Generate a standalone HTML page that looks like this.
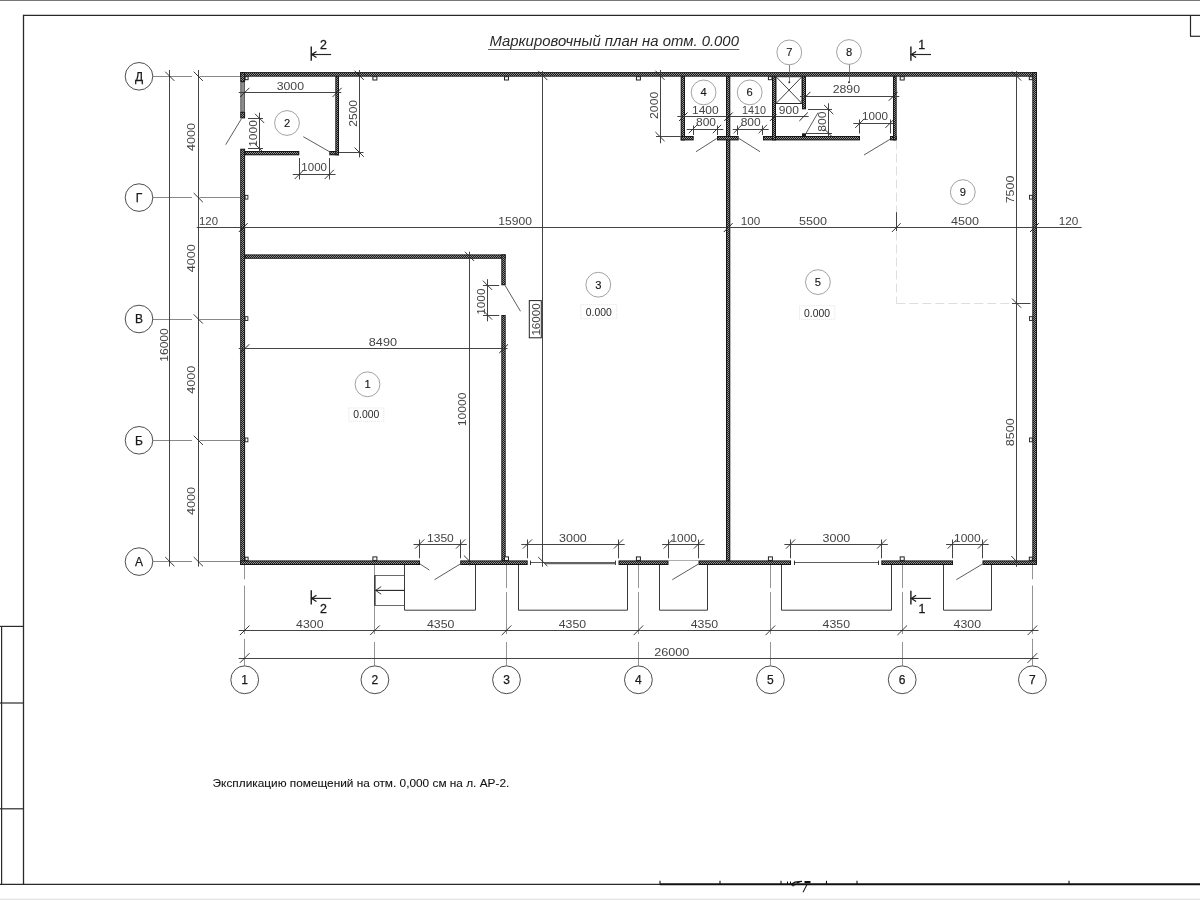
<!DOCTYPE html>
<html><head><meta charset="utf-8"><title>plan</title>
<style>
html,body{margin:0;padding:0;background:#fff;}
body{width:1200px;height:900px;overflow:hidden;position:relative;font-family:"Liberation Sans",sans-serif;}
svg{position:absolute;left:0;top:0;display:block;filter:grayscale(1)}
svg text{font-family:"Liberation Sans",sans-serif;}
</style></head><body>
<svg width="1200" height="900" viewBox="0 0 1200 900">
<defs><pattern id="hx" width="2" height="2" patternUnits="userSpaceOnUse"><rect width="2" height="2" fill="#1a1a1a"/><rect x="0" y="0" width="1" height="1" fill="#929292"/><rect x="1" y="1" width="1" height="1" fill="#929292"/></pattern></defs>
<rect x="0" y="0" width="1200" height="900" fill="#ffffff"/>

<rect x="0" y="0" width="1200" height="1" fill="#777"/>
<rect x="0" y="898.6" width="1200" height="1.4" fill="#e4e4e4"/>
<line x1="23.50" y1="15.30" x2="1200.00" y2="15.30" stroke="#2a2a2a" stroke-width="1.3" />
<line x1="23.50" y1="14.70" x2="23.50" y2="885.00" stroke="#2a2a2a" stroke-width="1.3" />
<line x1="0.00" y1="884.40" x2="660.00" y2="884.40" stroke="#2a2a2a" stroke-width="1.3" />
<line x1="660.00" y1="884.30" x2="1200.00" y2="884.30" stroke="#111" stroke-width="1.9" />
<line x1="1190.50" y1="15.30" x2="1190.50" y2="36.30" stroke="#2a2a2a" stroke-width="1.2" />
<line x1="1190.00" y1="36.30" x2="1200.00" y2="36.30" stroke="#2a2a2a" stroke-width="1.2" />
<line x1="1.60" y1="626.40" x2="1.60" y2="885.00" stroke="#2a2a2a" stroke-width="1.2" />
<line x1="0.00" y1="626.40" x2="23.50" y2="626.40" stroke="#2a2a2a" stroke-width="1.2" />
<line x1="0.00" y1="703.00" x2="23.50" y2="703.00" stroke="#2a2a2a" stroke-width="1.2" />
<line x1="0.00" y1="808.80" x2="23.50" y2="808.80" stroke="#2a2a2a" stroke-width="1.2" />
<line x1="660.00" y1="880.80" x2="660.00" y2="884.40" stroke="#111" stroke-width="1.1" />
<line x1="720.00" y1="880.80" x2="720.00" y2="884.40" stroke="#111" stroke-width="1.1" />
<line x1="781.00" y1="880.80" x2="781.00" y2="884.40" stroke="#111" stroke-width="1.1" />
<line x1="826.50" y1="880.80" x2="826.50" y2="884.40" stroke="#111" stroke-width="1.1" />
<line x1="857.00" y1="880.80" x2="857.00" y2="884.40" stroke="#111" stroke-width="1.1" />
<line x1="1069.00" y1="880.80" x2="1069.00" y2="884.40" stroke="#111" stroke-width="1.1" />
<line x1="787.50" y1="881.50" x2="787.50" y2="884.40" stroke="#111" stroke-width="1" />
<line x1="790.50" y1="881.50" x2="790.50" y2="884.40" stroke="#111" stroke-width="1" />
<path d="M791.5 884 L795 882.2 L799 881.6 L802 881.4 M797 883 L801 881.5" stroke="#111" stroke-width="1.2" fill="none"/>
<rect x="804.5" y="881" width="6" height="2.2" fill="#111"/>
<path d="M791 885.2 L793 886.6 L795.5 885.2 Z" fill="#111"/>
<line x1="806.80" y1="885.00" x2="803.00" y2="892.30" stroke="#222" stroke-width="1.1" />
<circle cx="139.00" cy="76.30" r="13.80" fill="none" stroke="#2e2e2e" stroke-width="0.85"/>
<text x="139.00" y="80.70" font-size="12.0" text-anchor="middle" fill="#1a1a1a" font-weight="normal" font-style="normal" stroke="#1a1a1a" stroke-width="0.25">Д</text>
<line x1="152.80" y1="76.50" x2="192.00" y2="76.50" stroke="#555" stroke-width="0.7" />
<line x1="199.50" y1="76.50" x2="240.50" y2="76.50" stroke="#555" stroke-width="0.7" />
<circle cx="139.00" cy="197.60" r="13.80" fill="none" stroke="#2e2e2e" stroke-width="0.85"/>
<text x="139.00" y="202.00" font-size="12.0" text-anchor="middle" fill="#1a1a1a" font-weight="normal" font-style="normal" stroke="#1a1a1a" stroke-width="0.25">Г</text>
<line x1="152.80" y1="197.50" x2="192.00" y2="197.50" stroke="#555" stroke-width="0.7" />
<line x1="199.50" y1="197.50" x2="240.50" y2="197.50" stroke="#555" stroke-width="0.7" />
<circle cx="139.00" cy="319.00" r="13.80" fill="none" stroke="#2e2e2e" stroke-width="0.85"/>
<text x="139.00" y="323.40" font-size="12.0" text-anchor="middle" fill="#1a1a1a" font-weight="normal" font-style="normal" stroke="#1a1a1a" stroke-width="0.25">В</text>
<line x1="152.80" y1="319.50" x2="192.00" y2="319.50" stroke="#555" stroke-width="0.7" />
<line x1="199.50" y1="319.50" x2="240.50" y2="319.50" stroke="#555" stroke-width="0.7" />
<circle cx="139.00" cy="440.30" r="13.80" fill="none" stroke="#2e2e2e" stroke-width="0.85"/>
<text x="139.00" y="444.70" font-size="12.0" text-anchor="middle" fill="#1a1a1a" font-weight="normal" font-style="normal" stroke="#1a1a1a" stroke-width="0.25">Б</text>
<line x1="152.80" y1="440.50" x2="192.00" y2="440.50" stroke="#555" stroke-width="0.7" />
<line x1="199.50" y1="440.50" x2="240.50" y2="440.50" stroke="#555" stroke-width="0.7" />
<circle cx="139.00" cy="561.60" r="13.80" fill="none" stroke="#2e2e2e" stroke-width="0.85"/>
<text x="139.00" y="566.00" font-size="12.0" text-anchor="middle" fill="#1a1a1a" font-weight="normal" font-style="normal" stroke="#1a1a1a" stroke-width="0.25">А</text>
<line x1="152.80" y1="561.50" x2="192.00" y2="561.50" stroke="#555" stroke-width="0.7" />
<line x1="199.50" y1="561.50" x2="240.50" y2="561.50" stroke="#555" stroke-width="0.7" />
<circle cx="244.70" cy="679.80" r="13.90" fill="none" stroke="#2e2e2e" stroke-width="0.85"/>
<text x="244.70" y="684.20" font-size="12.0" text-anchor="middle" fill="#1a1a1a" font-weight="normal" font-style="normal" stroke="#1a1a1a" stroke-width="0.25">1</text>
<circle cx="374.90" cy="679.80" r="13.90" fill="none" stroke="#2e2e2e" stroke-width="0.85"/>
<text x="374.90" y="684.20" font-size="12.0" text-anchor="middle" fill="#1a1a1a" font-weight="normal" font-style="normal" stroke="#1a1a1a" stroke-width="0.25">2</text>
<circle cx="506.50" cy="679.80" r="13.90" fill="none" stroke="#2e2e2e" stroke-width="0.85"/>
<text x="506.50" y="684.20" font-size="12.0" text-anchor="middle" fill="#1a1a1a" font-weight="normal" font-style="normal" stroke="#1a1a1a" stroke-width="0.25">3</text>
<circle cx="638.40" cy="679.80" r="13.90" fill="none" stroke="#2e2e2e" stroke-width="0.85"/>
<text x="638.40" y="684.20" font-size="12.0" text-anchor="middle" fill="#1a1a1a" font-weight="normal" font-style="normal" stroke="#1a1a1a" stroke-width="0.25">4</text>
<circle cx="770.40" cy="679.80" r="13.90" fill="none" stroke="#2e2e2e" stroke-width="0.85"/>
<text x="770.40" y="684.20" font-size="12.0" text-anchor="middle" fill="#1a1a1a" font-weight="normal" font-style="normal" stroke="#1a1a1a" stroke-width="0.25">5</text>
<circle cx="902.20" cy="679.80" r="13.90" fill="none" stroke="#2e2e2e" stroke-width="0.85"/>
<text x="902.20" y="684.20" font-size="12.0" text-anchor="middle" fill="#1a1a1a" font-weight="normal" font-style="normal" stroke="#1a1a1a" stroke-width="0.25">6</text>
<circle cx="1032.40" cy="679.80" r="13.90" fill="none" stroke="#2e2e2e" stroke-width="0.85"/>
<text x="1032.40" y="684.20" font-size="12.0" text-anchor="middle" fill="#1a1a1a" font-weight="normal" font-style="normal" stroke="#1a1a1a" stroke-width="0.25">7</text>
<line x1="244.50" y1="565.00" x2="244.50" y2="579.30" stroke="#666" stroke-width="0.7" />
<line x1="244.50" y1="585.60" x2="244.50" y2="634.00" stroke="#666" stroke-width="0.7" />
<line x1="244.50" y1="638.80" x2="244.50" y2="666.00" stroke="#666" stroke-width="0.7" />
<line x1="374.50" y1="565.00" x2="374.50" y2="634.00" stroke="#666" stroke-width="0.7" />
<line x1="374.50" y1="642.00" x2="374.50" y2="666.00" stroke="#666" stroke-width="0.7" />
<line x1="506.50" y1="565.00" x2="506.50" y2="588.00" stroke="#666" stroke-width="0.7" />
<line x1="506.50" y1="592.00" x2="506.50" y2="634.00" stroke="#666" stroke-width="0.7" />
<line x1="506.50" y1="642.00" x2="506.50" y2="666.00" stroke="#666" stroke-width="0.7" />
<line x1="638.50" y1="565.00" x2="638.50" y2="588.00" stroke="#666" stroke-width="0.7" />
<line x1="638.50" y1="592.00" x2="638.50" y2="634.00" stroke="#666" stroke-width="0.7" />
<line x1="638.50" y1="642.00" x2="638.50" y2="666.00" stroke="#666" stroke-width="0.7" />
<line x1="770.50" y1="565.00" x2="770.50" y2="588.00" stroke="#666" stroke-width="0.7" />
<line x1="770.50" y1="592.00" x2="770.50" y2="634.00" stroke="#666" stroke-width="0.7" />
<line x1="770.50" y1="642.00" x2="770.50" y2="666.00" stroke="#666" stroke-width="0.7" />
<line x1="902.50" y1="565.00" x2="902.50" y2="588.00" stroke="#666" stroke-width="0.7" />
<line x1="902.50" y1="592.00" x2="902.50" y2="634.00" stroke="#666" stroke-width="0.7" />
<line x1="902.50" y1="642.00" x2="902.50" y2="666.00" stroke="#666" stroke-width="0.7" />
<line x1="1032.50" y1="565.00" x2="1032.50" y2="579.30" stroke="#666" stroke-width="0.7" />
<line x1="1032.50" y1="585.60" x2="1032.50" y2="634.00" stroke="#666" stroke-width="0.7" />
<line x1="1032.50" y1="638.80" x2="1032.50" y2="666.00" stroke="#666" stroke-width="0.7" />
<rect x="240.20" y="72.10" width="796.80" height="4.60" fill="#161616"/>
<rect x="241.20" y="73.10" width="794.80" height="2.60" fill="url(#hx)"/>
<rect x="1032.30" y="72.10" width="4.70" height="492.90" fill="#161616"/>
<rect x="1033.30" y="73.10" width="2.70" height="490.90" fill="url(#hx)"/>
<rect x="240.20" y="72.10" width="4.90" height="9.90" fill="#161616"/>
<rect x="241.20" y="73.10" width="2.90" height="7.90" fill="url(#hx)"/>
<rect x="240.20" y="112.00" width="4.90" height="6.40" fill="#161616"/>
<rect x="241.20" y="113.00" width="2.90" height="4.40" fill="url(#hx)"/>
<rect x="240.20" y="148.70" width="4.90" height="416.30" fill="#161616"/>
<rect x="241.20" y="149.70" width="2.90" height="414.30" fill="url(#hx)"/>
<rect x="240.79999999999998" y="82" width="3.7000000000000055" height="30" fill="#8c8c8c" stroke="#333" stroke-width="0.7"/>
<rect x="240.20" y="560.40" width="179.80" height="4.60" fill="#161616"/>
<rect x="241.20" y="561.40" width="177.80" height="2.60" fill="url(#hx)"/>
<rect x="460.20" y="560.40" width="67.50" height="4.60" fill="#161616"/>
<rect x="461.20" y="561.40" width="65.50" height="2.60" fill="url(#hx)"/>
<rect x="618.50" y="560.40" width="50.00" height="4.60" fill="#161616"/>
<rect x="619.50" y="561.40" width="48.00" height="2.60" fill="url(#hx)"/>
<rect x="698.50" y="560.40" width="92.50" height="4.60" fill="#161616"/>
<rect x="699.50" y="561.40" width="90.50" height="2.60" fill="url(#hx)"/>
<rect x="881.30" y="560.40" width="71.70" height="4.60" fill="#161616"/>
<rect x="882.30" y="561.40" width="69.70" height="2.60" fill="url(#hx)"/>
<rect x="982.50" y="560.40" width="54.50" height="4.60" fill="#161616"/>
<rect x="983.50" y="561.40" width="52.50" height="2.60" fill="url(#hx)"/>
<rect x="244.60" y="151.00" width="54.70" height="4.30" fill="#161616"/>
<rect x="245.60" y="152.00" width="52.70" height="2.30" fill="url(#hx)"/>
<rect x="329.30" y="151.00" width="9.70" height="4.30" fill="#161616"/>
<rect x="330.30" y="152.00" width="7.70" height="2.30" fill="url(#hx)"/>
<rect x="335.30" y="76.20" width="3.70" height="79.10" fill="#161616"/>
<rect x="336.30" y="77.20" width="1.70" height="77.10" fill="url(#hx)"/>
<rect x="244.60" y="254.40" width="261.10" height="4.40" fill="#161616"/>
<rect x="245.60" y="255.40" width="259.10" height="2.40" fill="url(#hx)"/>
<rect x="501.30" y="254.40" width="4.40" height="30.90" fill="#161616"/>
<rect x="502.30" y="255.40" width="2.40" height="28.90" fill="url(#hx)"/>
<rect x="501.30" y="315.00" width="4.40" height="245.90" fill="#161616"/>
<rect x="502.30" y="316.00" width="2.40" height="243.90" fill="url(#hx)"/>
<rect x="726.00" y="76.20" width="4.30" height="484.70" fill="#161616"/>
<rect x="727.00" y="77.20" width="2.30" height="482.70" fill="url(#hx)"/>
<rect x="680.70" y="76.20" width="4.30" height="64.20" fill="#161616"/>
<rect x="681.70" y="77.20" width="2.30" height="62.20" fill="url(#hx)"/>
<rect x="680.70" y="136.00" width="13.00" height="4.40" fill="#161616"/>
<rect x="681.70" y="137.00" width="11.00" height="2.40" fill="url(#hx)"/>
<rect x="717.00" y="136.00" width="21.70" height="4.40" fill="#161616"/>
<rect x="718.00" y="137.00" width="19.70" height="2.40" fill="url(#hx)"/>
<rect x="763.00" y="136.00" width="97.00" height="4.40" fill="#161616"/>
<rect x="764.00" y="137.00" width="95.00" height="2.40" fill="url(#hx)"/>
<rect x="890.00" y="136.00" width="6.70" height="4.40" fill="#161616"/>
<rect x="891.00" y="137.00" width="4.70" height="2.40" fill="url(#hx)"/>
<rect x="772.00" y="76.20" width="4.00" height="64.20" fill="#161616"/>
<rect x="773.00" y="77.20" width="2.00" height="62.20" fill="url(#hx)"/>
<rect x="802.00" y="76.20" width="4.00" height="33.10" fill="#161616"/>
<rect x="803.00" y="77.20" width="2.00" height="31.10" fill="url(#hx)"/>
<rect x="802" y="133.3" width="4" height="3" fill="#1c1c1c"/>
<rect x="893.00" y="76.20" width="3.70" height="64.20" fill="#161616"/>
<rect x="894.00" y="77.20" width="1.70" height="62.20" fill="url(#hx)"/>
<rect x="776" y="76.7" width="26" height="26.8" fill="#fff" stroke="#262626" stroke-width="1"/>
<line x1="776.00" y1="76.70" x2="802.00" y2="103.50" stroke="#383838" stroke-width="0.95" />
<line x1="802.00" y1="76.70" x2="776.00" y2="103.50" stroke="#383838" stroke-width="0.95" />
<rect x="372.90" y="76.70" width="4.00" height="3.30" fill="#fff" stroke="#161616" stroke-width="0.95"/>
<rect x="372.90" y="556.90" width="4.00" height="3.50" fill="#fff" stroke="#161616" stroke-width="0.95"/>
<rect x="504.50" y="76.70" width="4.00" height="3.30" fill="#fff" stroke="#161616" stroke-width="0.95"/>
<rect x="504.50" y="556.90" width="4.00" height="3.50" fill="#fff" stroke="#161616" stroke-width="0.95"/>
<rect x="636.40" y="76.70" width="4.00" height="3.30" fill="#fff" stroke="#161616" stroke-width="0.95"/>
<rect x="636.40" y="556.90" width="4.00" height="3.50" fill="#fff" stroke="#161616" stroke-width="0.95"/>
<rect x="768.40" y="76.70" width="3.60" height="3.00" fill="#fff" stroke="#161616" stroke-width="0.95"/>
<rect x="768.40" y="556.90" width="4.00" height="3.50" fill="#fff" stroke="#161616" stroke-width="0.95"/>
<rect x="900.20" y="76.70" width="4.00" height="3.30" fill="#fff" stroke="#161616" stroke-width="0.95"/>
<rect x="900.20" y="556.90" width="4.00" height="3.50" fill="#fff" stroke="#161616" stroke-width="0.95"/>
<rect x="245.10" y="76.70" width="3.00" height="3.00" fill="#fff" stroke="#161616" stroke-width="0.95"/>
<rect x="245.10" y="557.20" width="3.00" height="3.20" fill="#fff" stroke="#161616" stroke-width="0.95"/>
<rect x="1029.30" y="76.70" width="3.00" height="3.00" fill="#fff" stroke="#161616" stroke-width="0.95"/>
<rect x="1029.30" y="557.20" width="3.00" height="3.20" fill="#fff" stroke="#161616" stroke-width="0.95"/>
<rect x="245.10" y="195.30" width="2.80" height="3.80" fill="#fff" stroke="#161616" stroke-width="0.85"/>
<rect x="1029.50" y="195.30" width="2.80" height="3.80" fill="#fff" stroke="#161616" stroke-width="0.85"/>
<rect x="245.10" y="316.70" width="2.80" height="3.80" fill="#fff" stroke="#161616" stroke-width="0.85"/>
<rect x="1029.50" y="316.70" width="2.80" height="3.80" fill="#fff" stroke="#161616" stroke-width="0.85"/>
<rect x="245.10" y="438.00" width="2.80" height="3.80" fill="#fff" stroke="#161616" stroke-width="0.85"/>
<rect x="1029.50" y="438.00" width="2.80" height="3.80" fill="#fff" stroke="#161616" stroke-width="0.85"/>
<line x1="241.50" y1="118.60" x2="225.70" y2="144.70" stroke="#333" stroke-width="0.8" />
<line x1="330.00" y1="152.00" x2="303.30" y2="136.70" stroke="#333" stroke-width="0.8" />
<line x1="505.00" y1="285.30" x2="520.50" y2="311.30" stroke="#333" stroke-width="0.8" />
<line x1="716.70" y1="138.50" x2="696.00" y2="151.70" stroke="#333" stroke-width="0.8" />
<line x1="739.00" y1="138.50" x2="760.00" y2="151.70" stroke="#333" stroke-width="0.8" />
<line x1="806.00" y1="133.30" x2="818.00" y2="112.70" stroke="#333" stroke-width="0.8" />
<line x1="890.00" y1="139.30" x2="864.00" y2="155.00" stroke="#333" stroke-width="0.8" />
<line x1="420.00" y1="564.00" x2="429.30" y2="570.00" stroke="#333" stroke-width="0.8" />
<line x1="460.20" y1="564.00" x2="434.50" y2="579.70" stroke="#333" stroke-width="0.8" />
<line x1="698.50" y1="564.00" x2="672.30" y2="579.70" stroke="#333" stroke-width="0.8" />
<line x1="982.50" y1="564.00" x2="956.30" y2="579.70" stroke="#333" stroke-width="0.8" />
<line x1="668.50" y1="560.50" x2="698.50" y2="560.50" stroke="#777" stroke-width="0.6" />
<line x1="530.70" y1="562.50" x2="615.50" y2="562.50" stroke="#333" stroke-width="0.8" />
<line x1="530.50" y1="560.60" x2="530.50" y2="565.00" stroke="#222" stroke-width="0.9" />
<line x1="615.50" y1="560.60" x2="615.50" y2="565.00" stroke="#222" stroke-width="0.9" />
<line x1="545.00" y1="563.40" x2="615.50" y2="563.40" stroke="#666" stroke-width="1.6" />
<line x1="794.00" y1="562.50" x2="878.30" y2="562.50" stroke="#333" stroke-width="0.8" />
<line x1="794.50" y1="560.60" x2="794.50" y2="565.00" stroke="#222" stroke-width="0.9" />
<line x1="878.50" y1="560.60" x2="878.50" y2="565.00" stroke="#222" stroke-width="0.9" />
<path d="M404.5 565 V610.2 H475.5 V565" fill="none" stroke="#3a3a3a" stroke-width="1"/>
<path d="M518.5 565 V610.2 H627.5 V565" fill="none" stroke="#3a3a3a" stroke-width="1"/>
<path d="M659.5 565 V610.2 H707.5 V565" fill="none" stroke="#3a3a3a" stroke-width="1"/>
<path d="M781.5 565 V610.2 H891.5 V565" fill="none" stroke="#3a3a3a" stroke-width="1"/>
<path d="M943.5 565 V610.2 H991.5 V565" fill="none" stroke="#3a3a3a" stroke-width="1"/>
<line x1="374.90" y1="575.50" x2="404.50" y2="575.50" stroke="#444" stroke-width="0.8" />
<line x1="374.90" y1="605.50" x2="404.50" y2="605.50" stroke="#444" stroke-width="0.8" />
<line x1="374.90" y1="575.30" x2="374.90" y2="605.60" stroke="#222" stroke-width="1.3" />
<line x1="375.50" y1="590.40" x2="404.50" y2="590.40" stroke="#222" stroke-width="1.1" />
<path d="M381.2 586.6 L375.6 590.4 L381.2 594.2" fill="none" stroke="#222" stroke-width="0.9"/>
<line x1="169.50" y1="70.00" x2="169.50" y2="566.50" stroke="#3a3a3a" stroke-width="0.95" />
<line x1="198.50" y1="70.00" x2="198.50" y2="566.50" stroke="#3a3a3a" stroke-width="0.95" />
<line x1="193.70" y1="71.70" x2="202.90" y2="80.90" stroke="#222" stroke-width="0.9" />
<line x1="193.70" y1="193.00" x2="202.90" y2="202.20" stroke="#222" stroke-width="0.9" />
<line x1="193.70" y1="314.40" x2="202.90" y2="323.60" stroke="#222" stroke-width="0.9" />
<line x1="193.70" y1="435.70" x2="202.90" y2="444.90" stroke="#222" stroke-width="0.9" />
<line x1="193.70" y1="557.00" x2="202.90" y2="566.20" stroke="#222" stroke-width="0.9" />
<line x1="165.20" y1="71.70" x2="174.40" y2="80.90" stroke="#222" stroke-width="0.9" />
<line x1="165.20" y1="557.00" x2="174.40" y2="566.20" stroke="#222" stroke-width="0.9" />
<text x="195.30" y="136.95" font-size="11.4" text-anchor="middle" fill="#444" font-weight="normal" font-style="normal" textLength="28.00" lengthAdjust="spacingAndGlyphs" transform="rotate(-90 195.30 136.95)" >4000</text>
<text x="195.30" y="258.30" font-size="11.4" text-anchor="middle" fill="#444" font-weight="normal" font-style="normal" textLength="28.00" lengthAdjust="spacingAndGlyphs" transform="rotate(-90 195.30 258.30)" >4000</text>
<text x="195.30" y="379.65" font-size="11.4" text-anchor="middle" fill="#444" font-weight="normal" font-style="normal" textLength="28.00" lengthAdjust="spacingAndGlyphs" transform="rotate(-90 195.30 379.65)" >4000</text>
<text x="195.30" y="500.95" font-size="11.4" text-anchor="middle" fill="#444" font-weight="normal" font-style="normal" textLength="28.00" lengthAdjust="spacingAndGlyphs" transform="rotate(-90 195.30 500.95)" >4000</text>
<text x="167.60" y="345.00" font-size="11.4" text-anchor="middle" fill="#444" font-weight="normal" font-style="normal" textLength="33.40" lengthAdjust="spacingAndGlyphs" transform="rotate(-90 167.60 345.00)" >16000</text>
<line x1="238.70" y1="630.50" x2="1038.50" y2="630.50" stroke="#3a3a3a" stroke-width="0.95" />
<line x1="238.70" y1="658.50" x2="1038.50" y2="658.50" stroke="#3a3a3a" stroke-width="0.95" />
<line x1="239.90" y1="635.10" x2="249.50" y2="625.50" stroke="#222" stroke-width="0.9" />
<line x1="370.10" y1="635.10" x2="379.70" y2="625.50" stroke="#222" stroke-width="0.9" />
<line x1="501.70" y1="635.10" x2="511.30" y2="625.50" stroke="#222" stroke-width="0.9" />
<line x1="633.60" y1="635.10" x2="643.20" y2="625.50" stroke="#222" stroke-width="0.9" />
<line x1="765.60" y1="635.10" x2="775.20" y2="625.50" stroke="#222" stroke-width="0.9" />
<line x1="897.40" y1="635.10" x2="907.00" y2="625.50" stroke="#222" stroke-width="0.9" />
<line x1="1027.60" y1="635.10" x2="1037.20" y2="625.50" stroke="#222" stroke-width="0.9" />
<line x1="239.90" y1="662.80" x2="249.50" y2="653.20" stroke="#222" stroke-width="0.9" />
<line x1="1027.60" y1="662.80" x2="1037.20" y2="653.20" stroke="#222" stroke-width="0.9" />
<text x="309.80" y="627.80" font-size="11.0" text-anchor="middle" fill="#444" font-weight="normal" font-style="normal" textLength="27.40" lengthAdjust="spacingAndGlyphs" >4300</text>
<text x="440.70" y="627.80" font-size="11.0" text-anchor="middle" fill="#444" font-weight="normal" font-style="normal" textLength="27.40" lengthAdjust="spacingAndGlyphs" >4350</text>
<text x="572.45" y="627.80" font-size="11.0" text-anchor="middle" fill="#444" font-weight="normal" font-style="normal" textLength="27.40" lengthAdjust="spacingAndGlyphs" >4350</text>
<text x="704.40" y="627.80" font-size="11.0" text-anchor="middle" fill="#444" font-weight="normal" font-style="normal" textLength="27.40" lengthAdjust="spacingAndGlyphs" >4350</text>
<text x="836.30" y="627.80" font-size="11.0" text-anchor="middle" fill="#444" font-weight="normal" font-style="normal" textLength="27.40" lengthAdjust="spacingAndGlyphs" >4350</text>
<text x="967.30" y="627.80" font-size="11.0" text-anchor="middle" fill="#444" font-weight="normal" font-style="normal" textLength="27.40" lengthAdjust="spacingAndGlyphs" >4300</text>
<text x="671.80" y="655.50" font-size="11.0" text-anchor="middle" fill="#444" font-weight="normal" font-style="normal" textLength="35.20" lengthAdjust="spacingAndGlyphs" >26000</text>
<line x1="896.50" y1="140.50" x2="896.50" y2="303.20" stroke="#d6d6d6" stroke-width="0.8" stroke-dasharray="9 4"/>
<line x1="896.30" y1="303.50" x2="1012.00" y2="303.50" stroke="#d6d6d6" stroke-width="0.8" stroke-dasharray="9 4"/>
<line x1="196.70" y1="227.50" x2="1081.70" y2="227.50" stroke="#3a3a3a" stroke-width="0.95" />
<line x1="238.80" y1="232.00" x2="247.60" y2="223.20" stroke="#222" stroke-width="1.0" />
<line x1="723.80" y1="232.00" x2="732.60" y2="223.20" stroke="#222" stroke-width="1.0" />
<line x1="1030.00" y1="232.00" x2="1038.80" y2="223.20" stroke="#222" stroke-width="1.0" />
<line x1="891.90" y1="232.00" x2="900.70" y2="223.20" stroke="#222" stroke-width="0.9" />
<line x1="896.50" y1="212.20" x2="896.50" y2="231.00" stroke="#3a3a3a" stroke-width="0.95" />
<text x="208.50" y="224.80" font-size="11.0" text-anchor="middle" fill="#444" font-weight="normal" font-style="normal" textLength="19.00" lengthAdjust="spacingAndGlyphs" >120</text>
<text x="515.15" y="224.80" font-size="11.0" text-anchor="middle" fill="#444" font-weight="normal" font-style="normal" textLength="33.70" lengthAdjust="spacingAndGlyphs" >15900</text>
<text x="750.45" y="224.80" font-size="11.0" text-anchor="middle" fill="#444" font-weight="normal" font-style="normal" textLength="19.50" lengthAdjust="spacingAndGlyphs" >100</text>
<text x="813.00" y="224.80" font-size="11.0" text-anchor="middle" fill="#444" font-weight="normal" font-style="normal" textLength="28.00" lengthAdjust="spacingAndGlyphs" >5500</text>
<text x="965.00" y="224.80" font-size="11.0" text-anchor="middle" fill="#444" font-weight="normal" font-style="normal" textLength="28.00" lengthAdjust="spacingAndGlyphs" >4500</text>
<text x="1068.60" y="224.80" font-size="11.0" text-anchor="middle" fill="#444" font-weight="normal" font-style="normal" textLength="19.60" lengthAdjust="spacingAndGlyphs" >120</text>
<line x1="542.50" y1="71.10" x2="542.50" y2="566.80" stroke="#3a3a3a" stroke-width="0.95" />
<line x1="538.20" y1="70.90" x2="547.40" y2="80.10" stroke="#222" stroke-width="0.9" />
<line x1="538.20" y1="557.00" x2="547.40" y2="566.20" stroke="#222" stroke-width="0.9" />
<rect x="529.3" y="300.6" width="12" height="37.2" fill="#fff" stroke="#222" stroke-width="1"/>
<text x="539.90" y="319.45" font-size="11.4" text-anchor="middle" fill="#444" font-weight="normal" font-style="normal" textLength="32.30" lengthAdjust="spacingAndGlyphs" transform="rotate(-90 539.90 319.45)" >16000</text>
<line x1="1016.50" y1="71.10" x2="1016.50" y2="566.80" stroke="#3a3a3a" stroke-width="0.95" />
<line x1="1012.00" y1="71.40" x2="1021.20" y2="80.60" stroke="#222" stroke-width="0.9" />
<line x1="1012.00" y1="298.60" x2="1021.20" y2="307.80" stroke="#222" stroke-width="0.9" />
<line x1="1011.30" y1="556.00" x2="1017.20" y2="562.20" stroke="#222" stroke-width="0.9" />
<line x1="1012.00" y1="303.50" x2="1030.50" y2="303.50" stroke="#3a3a3a" stroke-width="0.95" />
<text x="1014.20" y="189.50" font-size="11.4" text-anchor="middle" fill="#444" font-weight="normal" font-style="normal" textLength="27.60" lengthAdjust="spacingAndGlyphs" transform="rotate(-90 1014.20 189.50)" >7500</text>
<text x="1014.20" y="432.30" font-size="11.4" text-anchor="middle" fill="#444" font-weight="normal" font-style="normal" textLength="27.80" lengthAdjust="spacingAndGlyphs" transform="rotate(-90 1014.20 432.30)" >8500</text>
<line x1="238.70" y1="92.50" x2="341.30" y2="92.50" stroke="#3a3a3a" stroke-width="0.95" />
<line x1="240.20" y1="97.00" x2="249.40" y2="87.80" stroke="#222" stroke-width="0.9" />
<line x1="332.50" y1="97.00" x2="341.70" y2="87.80" stroke="#222" stroke-width="0.9" />
<text x="290.35" y="89.70" font-size="11.0" text-anchor="middle" fill="#444" font-weight="normal" font-style="normal" textLength="27.30" lengthAdjust="spacingAndGlyphs" >3000</text>
<line x1="359.50" y1="70.00" x2="359.50" y2="157.40" stroke="#3a3a3a" stroke-width="0.95" />
<line x1="354.60" y1="70.70" x2="363.80" y2="79.90" stroke="#222" stroke-width="0.9" />
<line x1="354.60" y1="147.60" x2="363.80" y2="156.80" stroke="#222" stroke-width="0.9" />
<line x1="339.00" y1="152.50" x2="363.50" y2="152.50" stroke="#3a3a3a" stroke-width="0.95" />
<text x="356.80" y="113.35" font-size="11.4" text-anchor="middle" fill="#444" font-weight="normal" font-style="normal" textLength="26.70" lengthAdjust="spacingAndGlyphs" transform="rotate(-90 356.80 113.35)" >2500</text>
<line x1="259.50" y1="112.70" x2="259.50" y2="152.50" stroke="#3a3a3a" stroke-width="0.95" />
<line x1="255.00" y1="113.80" x2="264.20" y2="123.00" stroke="#222" stroke-width="0.9" />
<line x1="255.00" y1="144.10" x2="264.20" y2="153.30" stroke="#222" stroke-width="0.9" />
<line x1="248.00" y1="118.50" x2="263.00" y2="118.50" stroke="#3a3a3a" stroke-width="0.95" />
<line x1="248.00" y1="148.50" x2="263.00" y2="148.50" stroke="#3a3a3a" stroke-width="0.95" />
<text x="257.30" y="133.50" font-size="11.4" text-anchor="middle" fill="#444" font-weight="normal" font-style="normal" textLength="26.60" lengthAdjust="spacingAndGlyphs" transform="rotate(-90 257.30 133.50)" >1000</text>
<line x1="292.70" y1="174.50" x2="335.50" y2="174.50" stroke="#3a3a3a" stroke-width="0.95" />
<line x1="294.70" y1="179.00" x2="303.90" y2="169.80" stroke="#222" stroke-width="0.9" />
<line x1="324.70" y1="179.00" x2="333.90" y2="169.80" stroke="#222" stroke-width="0.9" />
<line x1="299.50" y1="158.00" x2="299.50" y2="179.50" stroke="#3a3a3a" stroke-width="0.95" />
<line x1="329.50" y1="158.00" x2="329.50" y2="179.50" stroke="#3a3a3a" stroke-width="0.95" />
<text x="314.15" y="171.40" font-size="11.0" text-anchor="middle" fill="#444" font-weight="normal" font-style="normal" textLength="25.70" lengthAdjust="spacingAndGlyphs" >1000</text>
<line x1="238.70" y1="348.50" x2="507.50" y2="348.50" stroke="#3a3a3a" stroke-width="0.95" />
<line x1="240.40" y1="353.10" x2="249.20" y2="344.30" stroke="#222" stroke-width="1.0" />
<line x1="499.20" y1="353.10" x2="508.00" y2="344.30" stroke="#222" stroke-width="1.0" />
<text x="382.90" y="345.60" font-size="11.0" text-anchor="middle" fill="#444" font-weight="normal" font-style="normal" textLength="28.20" lengthAdjust="spacingAndGlyphs" >8490</text>
<line x1="469.50" y1="251.70" x2="469.50" y2="565.30" stroke="#3a3a3a" stroke-width="0.95" />
<line x1="464.90" y1="251.80" x2="474.10" y2="261.00" stroke="#222" stroke-width="0.9" />
<line x1="463.90" y1="555.50" x2="470.50" y2="562.10" stroke="#222" stroke-width="0.9" />
<text x="466.40" y="409.40" font-size="11.4" text-anchor="middle" fill="#444" font-weight="normal" font-style="normal" textLength="33.80" lengthAdjust="spacingAndGlyphs" transform="rotate(-90 466.40 409.40)" >10000</text>
<line x1="487.50" y1="279.20" x2="487.50" y2="321.30" stroke="#3a3a3a" stroke-width="0.95" />
<line x1="482.90" y1="280.70" x2="492.10" y2="289.90" stroke="#222" stroke-width="0.9" />
<line x1="482.90" y1="310.40" x2="492.10" y2="319.60" stroke="#222" stroke-width="0.9" />
<line x1="483.00" y1="285.50" x2="499.20" y2="285.50" stroke="#3a3a3a" stroke-width="0.95" />
<line x1="483.00" y1="315.50" x2="499.20" y2="315.50" stroke="#3a3a3a" stroke-width="0.95" />
<text x="485.20" y="301.65" font-size="11.4" text-anchor="middle" fill="#444" font-weight="normal" font-style="normal" textLength="26.30" lengthAdjust="spacingAndGlyphs" transform="rotate(-90 485.20 301.65)" >1000</text>
<line x1="660.50" y1="70.00" x2="660.50" y2="143.30" stroke="#3a3a3a" stroke-width="0.95" />
<line x1="655.40" y1="70.70" x2="664.60" y2="79.90" stroke="#222" stroke-width="0.9" />
<line x1="655.40" y1="132.00" x2="664.60" y2="141.20" stroke="#222" stroke-width="0.9" />
<line x1="656.00" y1="136.50" x2="680.70" y2="136.50" stroke="#3a3a3a" stroke-width="0.95" />
<text x="657.80" y="105.30" font-size="11.4" text-anchor="middle" fill="#444" font-weight="normal" font-style="normal" textLength="27.40" lengthAdjust="spacingAndGlyphs" transform="rotate(-90 657.80 105.30)" >2000</text>
<line x1="677.30" y1="116.50" x2="808.70" y2="116.50" stroke="#3a3a3a" stroke-width="0.95" />
<line x1="679.10" y1="120.90" x2="687.50" y2="112.50" stroke="#222" stroke-width="1.0" />
<line x1="724.30" y1="120.90" x2="732.70" y2="112.50" stroke="#222" stroke-width="1.0" />
<line x1="770.00" y1="120.90" x2="778.40" y2="112.50" stroke="#222" stroke-width="1.0" />
<line x1="799.40" y1="120.90" x2="807.80" y2="112.50" stroke="#222" stroke-width="1.0" />
<text x="705.35" y="113.80" font-size="11.0" text-anchor="middle" fill="#444" font-weight="normal" font-style="normal" textLength="26.70" lengthAdjust="spacingAndGlyphs" >1400</text>
<text x="754.00" y="113.80" font-size="11.0" text-anchor="middle" fill="#444" font-weight="normal" font-style="normal" textLength="24.00" lengthAdjust="spacingAndGlyphs" >1410</text>
<rect x="776.6" y="104.2" width="25.2" height="11.0" fill="#fff"/>
<text x="788.80" y="113.80" font-size="11.0" text-anchor="middle" fill="#444" font-weight="normal" font-style="normal" textLength="20.00" lengthAdjust="spacingAndGlyphs" >900</text>
<line x1="686.70" y1="129.50" x2="723.30" y2="129.50" stroke="#3a3a3a" stroke-width="0.95" />
<line x1="732.70" y1="129.50" x2="768.70" y2="129.50" stroke="#3a3a3a" stroke-width="0.95" />
<line x1="688.80" y1="133.20" x2="697.20" y2="124.80" stroke="#222" stroke-width="0.9" />
<line x1="693.50" y1="125.50" x2="693.50" y2="135.00" stroke="#3a3a3a" stroke-width="0.95" />
<line x1="712.80" y1="133.20" x2="721.20" y2="124.80" stroke="#222" stroke-width="0.9" />
<line x1="717.50" y1="125.50" x2="717.50" y2="135.00" stroke="#3a3a3a" stroke-width="0.95" />
<line x1="733.60" y1="133.20" x2="742.00" y2="124.80" stroke="#222" stroke-width="0.9" />
<line x1="737.50" y1="125.50" x2="737.50" y2="135.00" stroke="#3a3a3a" stroke-width="0.95" />
<line x1="758.60" y1="133.20" x2="767.00" y2="124.80" stroke="#222" stroke-width="0.9" />
<line x1="762.50" y1="125.50" x2="762.50" y2="135.00" stroke="#3a3a3a" stroke-width="0.95" />
<text x="706.00" y="125.80" font-size="11.0" text-anchor="middle" fill="#444" font-weight="normal" font-style="normal" textLength="20.00" lengthAdjust="spacingAndGlyphs" >800</text>
<text x="750.70" y="125.80" font-size="11.0" text-anchor="middle" fill="#444" font-weight="normal" font-style="normal" textLength="20.00" lengthAdjust="spacingAndGlyphs" >800</text>
<line x1="800.00" y1="96.50" x2="899.30" y2="96.50" stroke="#3a3a3a" stroke-width="0.95" />
<line x1="801.60" y1="100.70" x2="810.40" y2="91.90" stroke="#222" stroke-width="1.0" />
<line x1="888.80" y1="100.70" x2="897.60" y2="91.90" stroke="#222" stroke-width="1.0" />
<text x="846.35" y="93.40" font-size="11.0" text-anchor="middle" fill="#444" font-weight="normal" font-style="normal" textLength="27.30" lengthAdjust="spacingAndGlyphs" >2890</text>
<line x1="828.50" y1="103.30" x2="828.50" y2="136.80" stroke="#3a3a3a" stroke-width="0.95" />
<line x1="824.10" y1="105.00" x2="833.30" y2="114.20" stroke="#222" stroke-width="0.9" />
<line x1="824.10" y1="128.70" x2="833.30" y2="137.90" stroke="#222" stroke-width="0.9" />
<line x1="808.00" y1="109.50" x2="832.00" y2="109.50" stroke="#3a3a3a" stroke-width="0.95" />
<line x1="806.00" y1="133.50" x2="832.00" y2="133.50" stroke="#3a3a3a" stroke-width="0.95" />
<text x="826.20" y="121.70" font-size="11.4" text-anchor="middle" fill="#444" font-weight="normal" font-style="normal" textLength="20.20" lengthAdjust="spacingAndGlyphs" transform="rotate(-90 826.20 121.70)" >800</text>
<line x1="853.30" y1="123.50" x2="893.30" y2="123.50" stroke="#3a3a3a" stroke-width="0.95" />
<line x1="855.20" y1="127.90" x2="864.40" y2="118.70" stroke="#222" stroke-width="0.9" />
<line x1="885.40" y1="127.90" x2="894.60" y2="118.70" stroke="#222" stroke-width="0.9" />
<line x1="859.50" y1="119.50" x2="859.50" y2="133.50" stroke="#3a3a3a" stroke-width="0.95" />
<line x1="890.50" y1="119.50" x2="890.50" y2="133.50" stroke="#3a3a3a" stroke-width="0.95" />
<text x="875.00" y="120.20" font-size="11.0" text-anchor="middle" fill="#444" font-weight="normal" font-style="normal" textLength="26.00" lengthAdjust="spacingAndGlyphs" >1000</text>
<line x1="413.50" y1="544.50" x2="466.80" y2="544.50" stroke="#3a3a3a" stroke-width="0.95" />
<line x1="415.10" y1="548.60" x2="424.30" y2="539.40" stroke="#222" stroke-width="0.9" />
<line x1="456.00" y1="548.60" x2="465.20" y2="539.40" stroke="#222" stroke-width="0.9" />
<line x1="419.50" y1="539.50" x2="419.50" y2="558.30" stroke="#3a3a3a" stroke-width="0.95" />
<line x1="460.50" y1="539.50" x2="460.50" y2="558.30" stroke="#3a3a3a" stroke-width="0.95" />
<text x="440.40" y="541.50" font-size="11.0" text-anchor="middle" fill="#444" font-weight="normal" font-style="normal" textLength="26.80" lengthAdjust="spacingAndGlyphs" >1350</text>
<line x1="521.30" y1="544.50" x2="624.70" y2="544.50" stroke="#3a3a3a" stroke-width="0.95" />
<line x1="522.90" y1="548.60" x2="532.10" y2="539.40" stroke="#222" stroke-width="0.9" />
<line x1="613.90" y1="548.60" x2="623.10" y2="539.40" stroke="#222" stroke-width="0.9" />
<line x1="527.50" y1="539.50" x2="527.50" y2="558.30" stroke="#3a3a3a" stroke-width="0.95" />
<line x1="618.50" y1="539.50" x2="618.50" y2="558.30" stroke="#3a3a3a" stroke-width="0.95" />
<text x="572.90" y="541.50" font-size="11.0" text-anchor="middle" fill="#444" font-weight="normal" font-style="normal" textLength="27.80" lengthAdjust="spacingAndGlyphs" >3000</text>
<line x1="662.10" y1="544.50" x2="704.70" y2="544.50" stroke="#3a3a3a" stroke-width="0.95" />
<line x1="663.70" y1="548.60" x2="672.90" y2="539.40" stroke="#222" stroke-width="0.9" />
<line x1="693.90" y1="548.60" x2="703.10" y2="539.40" stroke="#222" stroke-width="0.9" />
<line x1="668.50" y1="539.50" x2="668.50" y2="558.30" stroke="#3a3a3a" stroke-width="0.95" />
<line x1="698.50" y1="539.50" x2="698.50" y2="558.30" stroke="#3a3a3a" stroke-width="0.95" />
<text x="683.75" y="541.50" font-size="11.0" text-anchor="middle" fill="#444" font-weight="normal" font-style="normal" textLength="26.50" lengthAdjust="spacingAndGlyphs" >1000</text>
<line x1="784.40" y1="544.50" x2="887.80" y2="544.50" stroke="#3a3a3a" stroke-width="0.95" />
<line x1="786.00" y1="548.60" x2="795.20" y2="539.40" stroke="#222" stroke-width="0.9" />
<line x1="877.00" y1="548.60" x2="886.20" y2="539.40" stroke="#222" stroke-width="0.9" />
<line x1="790.50" y1="539.50" x2="790.50" y2="558.30" stroke="#3a3a3a" stroke-width="0.95" />
<line x1="881.50" y1="539.50" x2="881.50" y2="558.30" stroke="#3a3a3a" stroke-width="0.95" />
<text x="836.40" y="541.50" font-size="11.0" text-anchor="middle" fill="#444" font-weight="normal" font-style="normal" textLength="27.80" lengthAdjust="spacingAndGlyphs" >3000</text>
<line x1="946.10" y1="544.50" x2="988.70" y2="544.50" stroke="#3a3a3a" stroke-width="0.95" />
<line x1="947.70" y1="548.60" x2="956.90" y2="539.40" stroke="#222" stroke-width="0.9" />
<line x1="977.90" y1="548.60" x2="987.10" y2="539.40" stroke="#222" stroke-width="0.9" />
<line x1="952.50" y1="539.50" x2="952.50" y2="558.30" stroke="#3a3a3a" stroke-width="0.95" />
<line x1="982.50" y1="539.50" x2="982.50" y2="558.30" stroke="#3a3a3a" stroke-width="0.95" />
<text x="967.35" y="541.50" font-size="11.0" text-anchor="middle" fill="#444" font-weight="normal" font-style="normal" textLength="26.70" lengthAdjust="spacingAndGlyphs" >1000</text>
<circle cx="287.00" cy="123.00" r="12.40" fill="none" stroke="#8a8a8a" stroke-width="0.8"/>
<text x="287.00" y="127.00" font-size="11.2" text-anchor="middle" fill="#151515" font-weight="normal" font-style="normal" stroke="#151515" stroke-width="0.12">2</text>
<circle cx="367.50" cy="384.30" r="12.40" fill="none" stroke="#8a8a8a" stroke-width="0.8"/>
<text x="367.50" y="388.30" font-size="11.2" text-anchor="middle" fill="#151515" font-weight="normal" font-style="normal" stroke="#151515" stroke-width="0.12">1</text>
<circle cx="598.30" cy="284.70" r="12.40" fill="none" stroke="#8a8a8a" stroke-width="0.8"/>
<text x="598.30" y="288.70" font-size="11.2" text-anchor="middle" fill="#151515" font-weight="normal" font-style="normal" stroke="#151515" stroke-width="0.12">3</text>
<circle cx="817.90" cy="282.10" r="12.40" fill="none" stroke="#8a8a8a" stroke-width="0.8"/>
<text x="817.90" y="286.10" font-size="11.2" text-anchor="middle" fill="#151515" font-weight="normal" font-style="normal" stroke="#151515" stroke-width="0.12">5</text>
<circle cx="962.80" cy="192.10" r="12.40" fill="none" stroke="#8a8a8a" stroke-width="0.8"/>
<text x="962.80" y="196.10" font-size="11.2" text-anchor="middle" fill="#151515" font-weight="normal" font-style="normal" stroke="#151515" stroke-width="0.12">9</text>
<circle cx="703.60" cy="92.40" r="12.40" fill="none" stroke="#8a8a8a" stroke-width="0.8"/>
<text x="703.60" y="96.40" font-size="11.2" text-anchor="middle" fill="#151515" font-weight="normal" font-style="normal" stroke="#151515" stroke-width="0.12">4</text>
<circle cx="749.70" cy="92.40" r="12.40" fill="none" stroke="#8a8a8a" stroke-width="0.8"/>
<text x="749.70" y="96.40" font-size="11.2" text-anchor="middle" fill="#151515" font-weight="normal" font-style="normal" stroke="#151515" stroke-width="0.12">6</text>
<line x1="789.50" y1="64.60" x2="789.50" y2="82.00" stroke="#555" stroke-width="0.75" />
<circle cx="789.3" cy="82.2" r="1" fill="#333"/>
<line x1="849.50" y1="64.40" x2="849.50" y2="82.00" stroke="#555" stroke-width="0.75" />
<circle cx="849" cy="82.2" r="1" fill="#333"/>
<circle cx="789.30" cy="52.40" r="12.40" fill="#fff" stroke="#8a8a8a" stroke-width="0.8"/>
<text x="789.30" y="56.40" font-size="11.2" text-anchor="middle" fill="#151515" font-weight="normal" font-style="normal" stroke="#151515" stroke-width="0.12">7</text>
<circle cx="849.00" cy="52.00" r="12.40" fill="#fff" stroke="#8a8a8a" stroke-width="0.8"/>
<text x="849.00" y="56.00" font-size="11.2" text-anchor="middle" fill="#151515" font-weight="normal" font-style="normal" stroke="#151515" stroke-width="0.12">8</text>
<rect x="348.8" y="408" width="35.00" height="13.30" fill="none" stroke="#dcdcdc" stroke-width="0.8" stroke-dasharray="1 1"/>
<text x="366.30" y="418.00" font-size="10.4" text-anchor="middle" fill="#2a2a2a" font-weight="normal" font-style="normal" textLength="26.00" lengthAdjust="spacingAndGlyphs" >0.000</text>
<rect x="580.8" y="304.7" width="35.90" height="14.00" fill="none" stroke="#dcdcdc" stroke-width="0.8" stroke-dasharray="1 1"/>
<text x="598.80" y="315.50" font-size="10.4" text-anchor="middle" fill="#2a2a2a" font-weight="normal" font-style="normal" textLength="26.00" lengthAdjust="spacingAndGlyphs" >0.000</text>
<rect x="799.5" y="305.6" width="35.30" height="13.70" fill="none" stroke="#dcdcdc" stroke-width="0.8" stroke-dasharray="1 1"/>
<text x="817.00" y="316.60" font-size="10.4" text-anchor="middle" fill="#2a2a2a" font-weight="normal" font-style="normal" textLength="26.00" lengthAdjust="spacingAndGlyphs" >0.000</text>
<line x1="311.25" y1="46.50" x2="311.25" y2="60.75" stroke="#1c1c1c" stroke-width="1.4" />
<line x1="311.25" y1="54.50" x2="331.10" y2="54.50" stroke="#262626" stroke-width="1.15" />
<path d="M316.45 51.40 L311.75 54.50 L316.45 57.60" fill="none" stroke="#1c1c1c" stroke-width="1.25"/>
<text x="323.50" y="49.30" font-size="12.4" text-anchor="middle" fill="#1a1a1a" font-weight="normal" font-style="normal" stroke="#1a1a1a" stroke-width="0.3">2</text>
<line x1="910.90" y1="46.50" x2="910.90" y2="60.75" stroke="#1c1c1c" stroke-width="1.4" />
<line x1="910.90" y1="54.50" x2="931.00" y2="54.50" stroke="#262626" stroke-width="1.15" />
<path d="M916.10 51.40 L911.40 54.50 L916.10 57.60" fill="none" stroke="#1c1c1c" stroke-width="1.25"/>
<text x="921.60" y="49.30" font-size="12.4" text-anchor="middle" fill="#1a1a1a" font-weight="normal" font-style="normal" stroke="#1a1a1a" stroke-width="0.3">1</text>
<line x1="311.25" y1="590.30" x2="311.25" y2="604.50" stroke="#1c1c1c" stroke-width="1.4" />
<line x1="311.25" y1="598.40" x2="331.10" y2="598.40" stroke="#262626" stroke-width="1.15" />
<path d="M316.45 595.30 L311.75 598.40 L316.45 601.50" fill="none" stroke="#1c1c1c" stroke-width="1.25"/>
<text x="323.40" y="613.00" font-size="12.4" text-anchor="middle" fill="#1a1a1a" font-weight="normal" font-style="normal" stroke="#1a1a1a" stroke-width="0.3">2</text>
<line x1="910.90" y1="590.80" x2="910.90" y2="604.60" stroke="#1c1c1c" stroke-width="1.4" />
<line x1="910.90" y1="598.40" x2="930.90" y2="598.40" stroke="#262626" stroke-width="1.15" />
<path d="M916.10 595.30 L911.40 598.40 L916.10 601.50" fill="none" stroke="#1c1c1c" stroke-width="1.25"/>
<text x="922.00" y="612.60" font-size="12.4" text-anchor="middle" fill="#1a1a1a" font-weight="normal" font-style="normal" stroke="#1a1a1a" stroke-width="0.3">1</text>
<text x="614.20" y="45.90" font-size="14" text-anchor="middle" fill="#2a2a2a" font-weight="normal" font-style="italic" textLength="249.50" lengthAdjust="spacingAndGlyphs" >Маркировочный план на отм. 0.000</text>
<line x1="488.00" y1="49.50" x2="739.30" y2="49.50" stroke="#555" stroke-width="0.9" />
<text x="212.60" y="786.80" font-size="10.5" text-anchor="start" fill="#111" font-weight="normal" font-style="normal" textLength="296.70" lengthAdjust="spacingAndGlyphs" stroke="#111" stroke-width="0.08">Экспликацию помещений на отм. 0,000 см на л. АР-2.</text>
</svg></body></html>
